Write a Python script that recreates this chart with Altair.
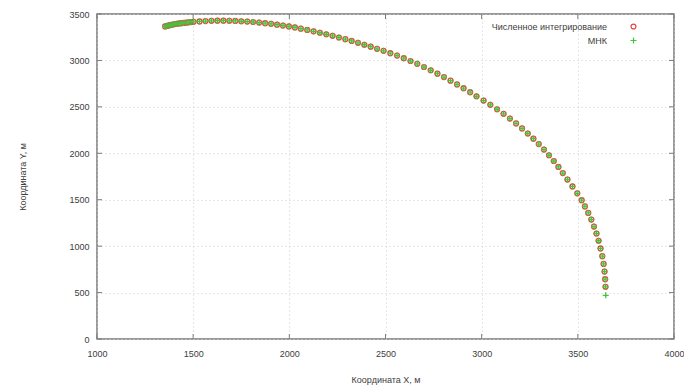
import altair as alt
import pandas as pd

# Trajectory points, metres
x_int = [1354, 1364, 1374, 1384, 1394, 1405, 1416, 1427, 1439, 1451, 1463, 1476, 1489, 1502,
         1533, 1564, 1595, 1626, 1657, 1688, 1719, 1750, 1781, 1812, 1843, 1874, 1905, 1936,
         1967, 1998, 2029, 2060,
         2093, 2126, 2159, 2192, 2225, 2258, 2291, 2324, 2357, 2390, 2423, 2456,
         2490, 2525, 2560, 2595, 2630, 2665, 2700, 2735, 2770, 2804, 2838, 2872, 2906, 2940, 2973,
         3010, 3045, 3080, 3114, 3147, 3179, 3210, 3240, 3269, 3297, 3324, 3350, 3375, 3399,
         3422, 3446, 3472, 3497,
         3520, 3537, 3554, 3570, 3584, 3597, 3608, 3618, 3627, 3634, 3639, 3642, 3644]
y_int = [3366, 3372, 3377, 3382, 3387, 3391, 3395, 3398, 3401, 3404, 3407, 3410, 3413, 3416,
         3420, 3424, 3427, 3428, 3428, 3427, 3425, 3422, 3418, 3414, 3408, 3401, 3394, 3385,
         3376, 3366, 3355, 3342,
         3328, 3313, 3298, 3282, 3265, 3247, 3229, 3210, 3190, 3169, 3148, 3125,
         3103, 3078, 3052, 3024, 2994, 2963, 2929, 2894, 2857, 2821, 2782, 2742, 2701, 2658, 2614,
         2568, 2522, 2474, 2425, 2374, 2322, 2268, 2213, 2157, 2099, 2040, 1979, 1917, 1853,
         1787, 1717, 1643, 1569,
         1495, 1428, 1358, 1286, 1211, 1136, 1058, 975, 892, 809, 726, 644, 562]

x_mnk = x_int + [3645]
y_mnk = y_int + [470]

series_names = ["Численное интегрирование", "МНК"]
series_colors = ["#e04a3a", "#3cc83c"]
series_shapes = ["circle", "M-1,0H1M0,-1V1"]

x_ticks = [1000, 1500, 2000, 2500, 3000, 3500, 4000]
y_ticks = [0, 500, 1000, 1500, 2000, 2500, 3000, 3500]

df = pd.DataFrame({
    "x": x_int + x_mnk,
    "y": y_int + y_mnk,
    "s": [series_names[0]] * len(x_int) + [series_names[1]] * len(x_mnk),
})

W, H = 577, 325
FONT = "Liberation Sans"
TXT = "#404040"
BORDER = "#7a7a7a"
GRID = "#cfcfcf"

xscale = alt.Scale(domain=[1000, 4000], nice=False, zero=False)
yscale = alt.Scale(domain=[0, 3500], nice=False, zero=False)

xaxis = alt.Axis(values=x_ticks, format="d", title="Координата X, м", grid=True,
                 gridDash=[1, 3], gridColor=GRID, gridWidth=1, domain=False, ticks=False,
                 labelFlush=False, labelPadding=10, labelFontSize=9, labelFont=FONT,
                 labelColor=TXT,
                 titleFont=FONT, titleFontSize=9, titleFontWeight="normal", titleColor=TXT,
                 titleX=W / 2, titleY=40, titleBaseline="middle", titleAlign="center")
yaxis = alt.Axis(values=y_ticks, format="d", title="Координата Y, м", grid=True,
                 gridDash=[1, 3], gridColor=GRID, gridWidth=1, domain=False, ticks=False,
                 labelFlush=False, labelPadding=8, labelFontSize=9, labelFont=FONT,
                 labelColor=TXT,
                 titleFont=FONT, titleFontSize=9, titleFontWeight="normal", titleColor=TXT,
                 titleX=-75, titleY=H / 2, titleAngle=270, titleBaseline="middle",
                 titleAlign="center")

legend = alt.Legend(orient="none", legendX=532, legendY=8, title=None,
                    labelAlign="right", labelOffset={"expr": "-31"}, labelFont=FONT,
                    labelFontSize=9, labelColor=TXT, symbolStrokeWidth=1.2, symbolSize=26,
                    rowPadding=3)

points = alt.Chart(df).mark_point(filled=False, strokeWidth=1.3, opacity=1).encode(
    x=alt.X("x:Q", scale=xscale, axis=xaxis),
    y=alt.Y("y:Q", scale=yscale, axis=yaxis),
    color=alt.Color("s:N", scale=alt.Scale(domain=series_names, range=series_colors),
                    legend=legend),
    shape=alt.Shape("s:N", scale=alt.Scale(domain=series_names, range=series_shapes),
                    legend=legend),
    size=alt.Size("s:N", scale=alt.Scale(domain=series_names, range=[24, 36]), legend=None),
)

xt = pd.DataFrame({"x": x_ticks})
yt = pd.DataFrame({"y": y_ticks})
tick_style = dict(color=BORDER, strokeWidth=1)
bottom_ticks = alt.Chart(xt).mark_rule(**tick_style).encode(
    x=alt.X("x:Q", scale=xscale), y=alt.value(H), y2=alt.value(H - 5))
top_ticks = alt.Chart(xt).mark_rule(**tick_style).encode(
    x=alt.X("x:Q", scale=xscale), y=alt.value(0), y2=alt.value(5))
left_ticks = alt.Chart(yt).mark_rule(**tick_style).encode(
    y=alt.Y("y:Q", scale=yscale), x=alt.value(0), x2=alt.value(5))
right_ticks = alt.Chart(yt).mark_rule(**tick_style).encode(
    y=alt.Y("y:Q", scale=yscale), x=alt.value(W), x2=alt.value(W - 5))

chart = alt.layer(bottom_ticks, top_ticks, left_ticks, right_ticks, points).properties(
    width=W, height=H,
    padding={"left": 89, "top": 6, "right": 10, "bottom": 46},
    autosize=alt.AutoSizeParams(type="none"),
    background="white",
).configure_view(stroke=BORDER, strokeWidth=1.5)

chart.save("out.html", embed_options={"renderer": "svg", "actions": False})
